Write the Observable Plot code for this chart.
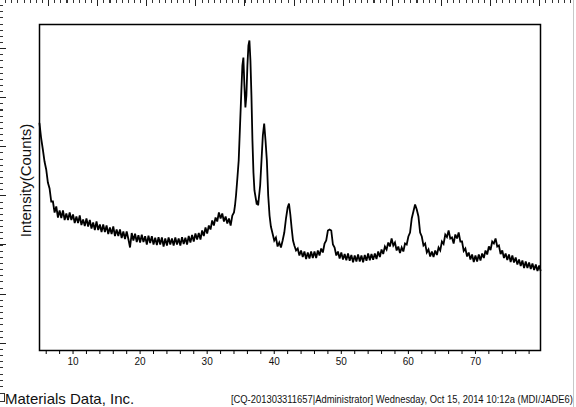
<!DOCTYPE html>
<html>
<head>
<meta charset="utf-8">
<script src="https://cdn.jsdelivr.net/npm/d3@7"></script>
<script src="https://cdn.jsdelivr.net/npm/@observablehq/plot@0.6"></script>
<style>
  html, body { margin: 0; padding: 0; background: #fff; }
  #wrap { position: relative; width: 576px; height: 407px; overflow: hidden; font-family: "Liberation Sans", Arial, sans-serif; }
  #chart { position: absolute; left: 0; top: 0; }
  .rt-minor { position: absolute; left: 0; top: 0; width: 572px; height: 3px;
    background: repeating-linear-gradient(to right, transparent 0 5.1px, #333 5.1px 6.14px); }
  .rt-major { position: absolute; left: 0; top: 0; width: 572px; height: 6px;
    background: repeating-linear-gradient(to right, transparent 0 48.1px, #222 48.1px 49.1px); }
  .rl-minor { position: absolute; left: 0; top: 0; width: 3px; height: 392px;
    background: repeating-linear-gradient(to bottom, transparent 0 5.1px, #333 5.1px 6.14px); }
  .rl-major { position: absolute; left: 0; top: 0; width: 6px; height: 392px;
    background: repeating-linear-gradient(to bottom, transparent 0 48.1px, #222 48.1px 49.1px); }
  .rl-box { position: absolute; left: 0; top: 393px; width: 4px; height: 7px; border: 1px solid #333; border-left: none; }
  .edge { position: absolute; left: 573px; top: 0; width: 1px; height: 407px; background: #c8c8c8; }
  #foot-left { position: absolute; left: 5px; top: 390px; font-size: 15px; line-height: 17px; color: #111; white-space: nowrap; }
  #foot-right { position: absolute; right: 3px; top: 394px; font-size: 10px; line-height: 12px; color: #111; white-space: nowrap; transform-origin: right center; }
</style>
</head>
<body>
<div id="wrap">
  <div id="chart"></div>
  <div class="rt-minor"></div><div class="rt-major"></div>
  <div class="rl-minor"></div><div class="rl-major"></div>
  <div class="rl-box"></div>
  <div class="edge"></div>
  <div id="foot-left"></div>
  <div id="foot-right"></div>
</div>
<script>
// ---- data: 2-theta (deg) and intensity (counts) ----
const lowAngleScan = [[5.00,2270],[5.25,2120],[5.50,2010],[5.75,1890],[6.00,1810],[6.25,1680],[6.50,1620],[6.75,1490],[7.00,1490],[7.25,1380],[7.50,1440],[7.75,1330],[8.00,1400],[8.25,1325],[8.50,1400],[8.75,1305],[9.00,1370],[9.25,1305],[9.50,1380],[9.75,1305],[10.00,1360],[10.25,1275],[10.50,1340],[10.75,1275],[11.00,1350],[11.25,1255],[11.50,1310],[11.75,1245],[12.00,1320],[12.25,1240],[12.50,1305],[12.75,1220],[13.00,1280],[13.25,1205],[13.50,1290],[13.75,1205],[14.00,1260],[14.25,1185],[14.50,1260],[14.75,1185],[15.00,1250],[15.25,1165],[15.50,1230],[15.75,1165],[16.00,1240],[16.25,1145],[16.50,1210],[16.75,1145],[17.00,1210],[17.25,1125],[17.50,1190],[17.75,1115],[18.00,1190],[18.25,1115],[18.50,1030],[18.75,1175],[19.00,1100],[19.25,1168],[19.50,1085],[19.75,1152],[20.00,1080],[20.25,1158],[20.50,1085],[20.75,1142],[21.00,1060],[21.25,1148],[21.50,1075],[21.75,1142],[22.00,1060],[22.25,1128],[22.50,1055],[22.75,1132],[23.00,1060],[23.25,1130],[23.50,1040],[23.75,1120],[24.00,1050],[24.25,1130],[24.50,1060],[24.75,1120],[25.00,1050],[25.25,1130],[25.50,1060],[25.75,1120],[26.00,1050],[26.25,1132],[26.50,1065],[26.75,1128],[27.00,1060],[27.25,1145],[27.50,1080],[27.75,1155],[28.00,1090],[28.25,1170],[28.50,1110],[28.75,1175],[29.00,1110],[29.25,1200],[29.50,1145],[29.75,1230],[30.00,1170],[30.25,1250],[30.50,1210],[30.75,1300],[31.00,1250],[31.25,1330],[31.50,1290],[31.75,1380],[32.00,1320],[32.25,1370],[32.50,1290],[32.75,1340],[33.00,1270],[33.25,1320],[33.50,1250],[33.75,1350]];
const mainPeakScan = [[34.00,1380],[34.15,1450],[34.30,1550],[34.50,1720],[34.70,1900],[34.90,2250],[35.10,2600],[35.25,2850],[35.40,2930],[35.55,2650],[35.70,2430],[35.85,2550],[36.00,2850],[36.15,3050],[36.30,3100],[36.45,2900],[36.60,2550],[36.75,2100],[36.90,1780],[37.05,1600],[37.25,1520],[37.40,1460],[37.50,1500],[37.60,1450],[37.70,1520],[37.90,1650],[38.10,1900],[38.30,2150],[38.50,2270],[38.70,2100],[38.90,1900],[39.10,1550],[39.30,1350],[39.50,1240],[39.75,1170],[40.00,1100],[40.25,1130],[40.50,1040],[40.75,1080],[41.00,1030],[41.25,1100],[41.50,1180],[41.75,1320],[42.00,1430],[42.20,1470],[42.40,1360],[42.60,1220],[42.80,1100],[43.00,1050]];
const highAngleScan = [[43.25,1000],[43.50,1020],[43.75,950],[44.00,1000],[44.25,935],[44.50,990],[44.75,915],[45.00,980],[45.25,920],[45.50,990],[45.75,925],[46.00,990],[46.25,925],[46.50,1000],[46.75,950],[47.00,1020],[47.25,980],[47.50,1070],[47.75,1100],[48.00,1200],[48.25,1210],[48.50,1200],[48.75,1060],[49.00,1030],[49.25,950],[49.50,990],[49.75,920],[50.00,980],[50.25,910],[50.50,965],[50.75,902],[51.00,970],[51.25,898],[51.50,955],[51.75,882],[52.00,950],[52.25,890],[52.50,960],[52.75,890],[53.00,950],[53.25,882],[53.50,955],[53.75,898],[54.00,970],[54.25,902],[54.50,965],[54.75,908],[55.00,970],[55.25,915],[55.50,990],[55.75,935],[56.00,1010],[56.25,965],[56.50,1040],[56.75,1010],[57.00,1080],[57.25,1040],[57.50,1120],[57.75,1050],[58.00,1080],[58.25,1000],[58.50,1040],[58.75,975],[59.00,1030],[59.25,990],[59.50,1070],[59.75,1060],[60.00,1140],[60.25,1180],[60.50,1320],[60.75,1390],[61.00,1460],[61.25,1410],[61.50,1340],[61.75,1180],[62.00,1140],[62.25,1050],[62.50,1070],[62.75,980],[63.00,1010],[63.25,940],[63.50,990],[63.75,935],[64.00,1000],[64.25,955],[64.50,1030],[64.75,1000],[65.00,1090],[65.25,1065],[65.50,1160],[65.75,1135],[66.00,1200],[66.25,1120],[66.50,1130],[66.75,1070],[67.00,1160],[67.25,1120],[67.50,1180],[67.75,1090],[68.00,1090],[68.25,995],[68.50,1020],[68.75,940],[69.00,980],[69.25,910],[69.50,960],[69.75,885],[70.00,950],[70.25,890],[70.50,960],[70.75,900],[71.00,970],[71.25,925],[71.50,1000],[71.75,960],[72.00,1040],[72.25,1005],[72.50,1090],[72.75,1070],[73.00,1120],[73.25,1040],[73.50,1050],[73.75,965],[74.00,1000],[74.25,925],[74.50,970],[74.75,905],[75.00,960],[75.25,885],[75.50,950],[75.75,880],[76.00,930],[76.25,860],[76.50,910],[76.75,845],[77.00,900],[77.25,825],[77.50,890],[77.75,825],[78.00,880],[78.25,815],[78.50,870],[78.75,805],[79.00,860],[79.25,795],[79.50,850],[79.70,800]];

const xDomain = [5, 79.7];
const yDomain = [0, 3260];
const xTickValues = [6,8,10,12,14,16,18,20,22,24,26,28,30,32,34,36,38,40,42,44,46,48,50,52,54,56,58,60,62,64,66,68,70,72,74,76,78];
const xTickLabels = [10,20,30,40,50,60,70];
const yTitle = "Intensity(Counts)";
const footLeft = "Materials Data, Inc.";
const footRight = "[CQ-201303311657|Administrator] Wednesday, Oct 15, 2014 10:12a (MDI/JADE6)";

const scan = [...lowAngleScan, ...mainPeakScan, ...highAngleScan].map(([t, c]) => ({twoTheta: t, counts: c}));

const chart = Plot.plot({
  width: 576,
  height: 375,
  marginTop: 24,
  marginLeft: 39,
  marginRight: 36,
  marginBottom: 25,
  style: {fontFamily: "'Liberation Sans', Arial, sans-serif", background: "transparent", color: "#111"},
  x: {domain: xDomain},
  y: {domain: yDomain, axis: null},
  marks: [
    Plot.axisX({ticks: xTickValues, tickSize: 4, tickPadding: 3, fontSize: 10,
      tickFormat: d => xTickLabels.includes(d) ? String(d) : "", label: null, stroke: "#000"}),
    Plot.line(scan, {x: "twoTheta", y: "counts", stroke: "#000", strokeWidth: 1.8, strokeLinejoin: "miter", strokeMiterlimit: 3}),
    Plot.frame({stroke: "#000", strokeWidth: 1.5}),
    Plot.text([yTitle], {text: d => d, frameAnchor: "left", textAnchor: "middle", rotate: -90, dx: -13, dy: -7, fontSize: 15, fill: "#111"})
  ]
});
document.getElementById("chart").appendChild(chart);

document.getElementById("foot-left").textContent = footLeft;
const fr = document.getElementById("foot-right");
fr.textContent = footRight;
const w = fr.getBoundingClientRect().width;
fr.style.transform = `scaleX(${342 / w})`;
</script>
</body>
</html>
